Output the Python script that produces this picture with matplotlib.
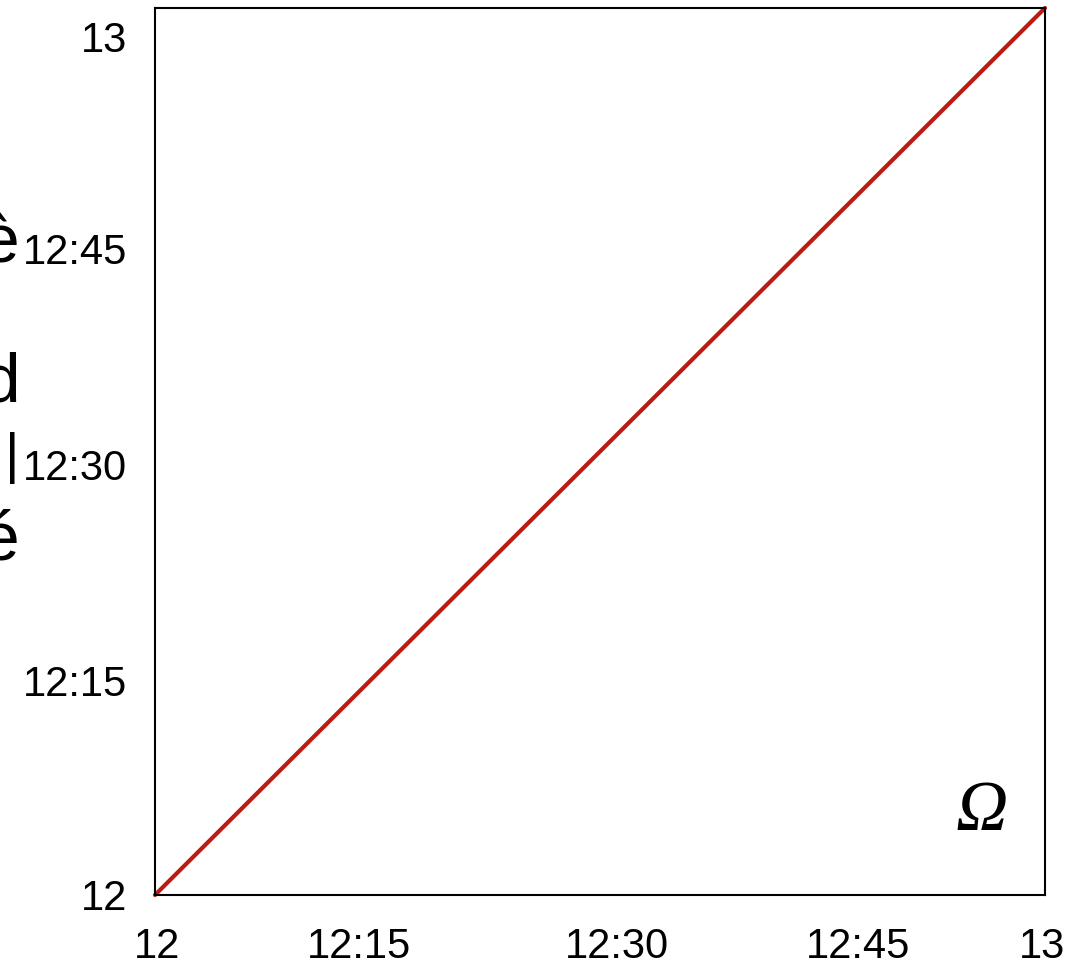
import matplotlib
matplotlib.use("Agg")
import matplotlib.pyplot as plt

x_vals = [12.0, 13.0]
y_vals = [12.0, 13.0]
tick_labels = ["12", "12:15", "12:30", "12:45", "13"]
side_chars = ["è", "d", "é"]

# layout (pixel positions of the label centres as in the reference)
W, H = 1072, 958
AX_L, AX_R, AX_T, AX_B = 155, 1045, 8, 895
xlab_px = [157, 359, 617, 858, 1042]
ylab_px = [895, 680, 465, 248, 36]
side_base_px = [262, 402, 560]

def px2x(p):
    return 12 + (p - AX_L) / (AX_R - AX_L)

def px2y(p):
    return 13 - (p - AX_T) / (AX_B - AX_T)

plt.rcParams['font.family'] = ['Liberation Sans', 'DejaVu Sans']
fig = plt.figure(figsize=(W/100, H/100), dpi=100)
ax = fig.add_axes([AX_L/W, 1-AX_B/H, (AX_R-AX_L)/W, (AX_B-AX_T)/H])
ax.plot(x_vals, y_vals, color='#bb1c12', lw=3, solid_capstyle='round', clip_on=False)
ax.set_xlim(12, 13)
ax.set_ylim(12, 13)
ax.set_xticks([px2x(p) for p in xlab_px])
ax.set_xticklabels(tick_labels)
ax.set_yticks([px2y(p) for p in ylab_px])
ax.set_yticklabels(tick_labels)
ax.tick_params(axis='x', length=0, labelsize=30, pad=23)
ax.tick_params(axis='y', length=0, labelsize=30, pad=20)
for s in ax.spines.values():
    s.set_linewidth(1.5)
ax.text(px2x(982), px2y(813), 'Ω', fontsize=52, style='italic',
        family=['Liberation Serif', 'DejaVu Serif'], ha='center', va='center')
for c, yy in zip(side_chars, side_base_px):
    fig.text(20/W, 1-yy/H, c, ha='right', va='baseline', fontsize=50)
fig.text(12/W, 1-458/H, "|", ha='center', va='center', fontsize=40)
fig.savefig('out.png', dpi=100)
